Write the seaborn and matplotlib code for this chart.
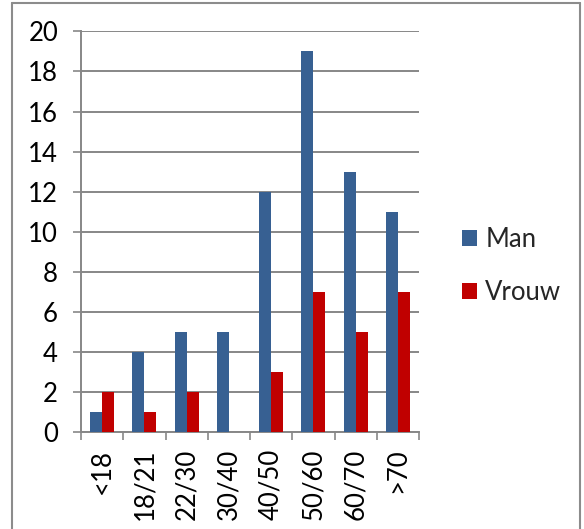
import matplotlib
matplotlib.use("Agg")
import matplotlib.pyplot as plt
import seaborn as sns
import pandas as pd
from matplotlib.lines import Line2D

categories = ["<18", "18/21", "22/30", "30/40", "40/50", "50/60", "60/70", ">70"]
man = [1, 4, 5, 5, 12, 19, 13, 11]
vrouw = [2, 1, 2, 0, 3, 7, 5, 7]
series = ["Man", "Vrouw"]
colors = ["#376092", "#C00000"]

df = pd.DataFrame({
    "cat": categories * 2,
    "val": man + vrouw,
    "sex": ["Man"] * len(categories) + ["Vrouw"] * len(categories),
})

sns.set_style("white")
plt.rcParams["font.family"] = ["Lato", "DejaVu Sans"]

fs = 18.5

fig = plt.figure(figsize=(5.84, 5.29), dpi=100)
ax = fig.add_axes([81 / 584, 1 - 432 / 529, (419 - 81) / 584, (432 - 31.4) / 529])

sns.barplot(data=df, x="cat", y="val", hue="sex", order=categories, hue_order=series,
            palette=colors, width=0.57, saturation=1, linewidth=0, ax=ax, zorder=3)

grid_col = "#878787"
ax.set_xlim(-0.5, len(categories) - 0.5)
ax.set_ylim(0, 20)
ax.set_yticks(range(0, 21, 2))
ax.yaxis.grid(True, color=grid_col, linewidth=1.4, zorder=0)
ax.set_axisbelow(True)
for s in ["top", "right"]:
    ax.spines[s].set_visible(False)
for s in ["left", "bottom"]:
    ax.spines[s].set_color(grid_col)
    ax.spines[s].set_linewidth(1.4)

ax.set_xlabel("")
ax.set_ylabel("")
ax.tick_params(axis="y", which="major", length=5.5, width=1.2, color=grid_col,
               direction="out", left=True, pad=11, labelsize=fs, labelcolor="black")
ax.set_xticks(range(len(categories)))
ax.set_xticklabels(categories)
ax.set_xticks([i - 0.5 for i in range(len(categories) + 1)], minor=True)
ax.tick_params(axis="x", which="major", length=0, pad=12, labelsize=fs, labelcolor="black")
ax.tick_params(axis="x", which="minor", length=6, width=1.2, color=grid_col,
               direction="out", bottom=True)
plt.setp(ax.get_xticklabels(), rotation=90, va="top", ha="center")

handles, labels = ax.get_legend_handles_labels()
if ax.legend_ is not None:
    ax.legend_.remove()
fig.legend(handles, labels, loc="center left", bbox_to_anchor=(462 / 584, 1 - 266 / 529),
           frameon=False, borderpad=0, borderaxespad=0, handlelength=0.6, handleheight=0.6,
           handletextpad=0.3, labelspacing=1.1, fontsize=fs)

border = "#8c8c8c"
x0, x1 = 12 / 584, 580 / 584
y0, y1 = 0.0, 1 - 2.5 / 529
for xs, ys in [([x0, x0], [y0, y1]), ([x0, x1], [y1, y1]), ([x1, x1], [y1, y0])]:
    fig.add_artist(Line2D(xs, ys, color=border, linewidth=1.5, transform=fig.transFigure))

fig.savefig("out.png", dpi=100)
